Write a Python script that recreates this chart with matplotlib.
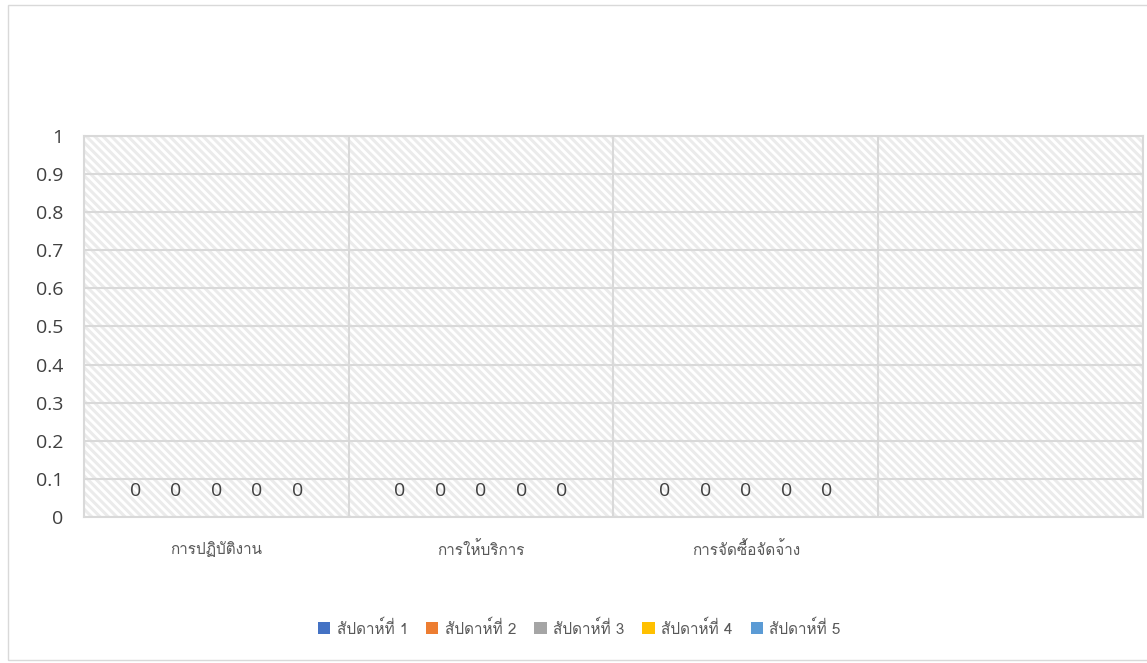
import numpy as np
import matplotlib
matplotlib.use('Agg')
import matplotlib.pyplot as plt
from matplotlib import font_manager
from matplotlib.patches import Patch, Rectangle

# find a family that has Thai glyphs
thai_family = None
for f in font_manager.fontManager.ttflist:
    try:
        if font_manager.get_font(f.fname).get_char_index(0x0E01):
            thai_family = f.name
            break
    except Exception:
        pass
fams = ([thai_family] if thai_family else []) + ['DejaVu Sans']
plt.rcParams['font.family'] = fams
plt.rcParams['hatch.linewidth'] = 2.2

categories = ['การปฏิบัติงาน', 'การให้บริการ', 'การจัดซื้อจัดจ้าง', '']
series = ['สัปดาห์ที่ 1', 'สัปดาห์ที่ 2', 'สัปดาห์ที่ 3', 'สัปดาห์ที่ 4', 'สัปดาห์ที่ 5']
week1 = [0, 0, 0, np.nan]
week2 = [0, 0, 0, np.nan]
week3 = [0, 0, 0, np.nan]
week4 = [0, 0, 0, np.nan]
week5 = [0, 0, 0, np.nan]
values = [week1, week2, week3, week4, week5]
colors = ['#4472C4', '#ED7D31', '#A5A5A5', '#FFC000', '#5B9BD5']
yticks = [0, 0.1, 0.2, 0.3, 0.4, 0.5, 0.6, 0.7, 0.8, 0.9, 1]

fig = plt.figure(figsize=(11.47, 6.63), dpi=100)
fig.patches.append(Rectangle((8 / 1147, 3 / 663), 1.0, 655 / 663, transform=fig.transFigure,
                             fill=False, edgecolor='#d9d9d9', linewidth=1))
ax = fig.add_axes([0.0732, 0.2202, 0.9233, 0.5747])

ax.patch.set_hatch('\\\\\\\\')
ax.patch.set_edgecolor('#ebebeb')
ax.patch.set_linewidth(0)

x = np.arange(len(categories))
w = 0.153
for i, (vals, c) in enumerate(zip(values, colors)):
    pos = x + (i - 2) * w
    ax.bar(pos, np.nan_to_num(vals), w, color=c)
    for p, v in zip(pos, vals):
        if not np.isnan(v):
            ax.annotate(f'{v:g}', (p, v), xytext=(0, 18.5), textcoords='offset points',
                        ha='center', va='center', fontsize=14, color='#404040',
                        family=['Open Sans', 'DejaVu Sans'])

ax.set_xlim(-0.5, len(categories) - 0.5)
ax.set_ylim(0, 1)
ax.set_yticks(yticks)
ax.set_yticklabels([f'{t:g}' for t in yticks], family=['Open Sans', 'DejaVu Sans'],
                   fontsize=14, color='#404040')
ax.set_xticks(x)
ax.set_xticklabels(categories, fontsize=11, color='#595959')
ax.set_xticks(np.arange(-0.5, len(categories)), minor=True)
ax.tick_params(axis='both', which='both', length=0)
ax.tick_params(axis='x', pad=17.5)
ax.tick_params(axis='y', pad=15)
ax.grid(axis='y', color='#d9d9d9', linewidth=1.5)
ax.grid(axis='x', which='minor', color='#d9d9d9', linewidth=1.5)
ax.set_axisbelow(True)
for s in ax.spines.values():
    s.set_color('#d9d9d9')
    s.set_linewidth(1.5)

handles = [Patch(facecolor=c, label=s) for c, s in zip(colors, series)]
fig.legend(handles=handles, loc='center', bbox_to_anchor=(0.505, 0.053), ncol=5,
           frameon=False, fontsize=11, labelcolor='#595959', handlelength=0.8,
           handleheight=0.8, handletextpad=0.4, columnspacing=1.2)

fig.savefig('out.png', dpi=100)
